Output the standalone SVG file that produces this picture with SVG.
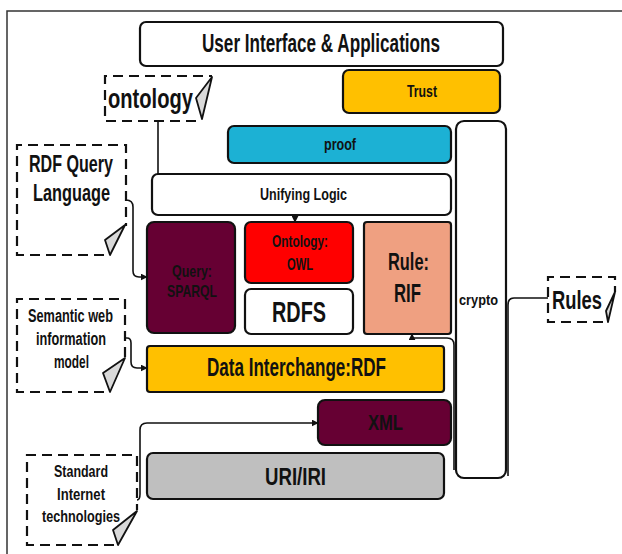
<svg xmlns="http://www.w3.org/2000/svg" width="622" height="554" viewBox="0 0 622 554">
<defs>
<style>
.box{stroke:#111;stroke-width:2.2;}
.dash{fill:none;stroke:#111;stroke-width:2.2;stroke-dasharray:10 6;}
.fold{fill:#d9d9d9;stroke:#111;stroke-width:1.8;stroke-linejoin:round;}
.conn{fill:none;stroke:#111;stroke-width:1.6;}
text{font-family:"Liberation Sans",Arial,sans-serif;font-weight:bold;fill:#111;}
</style>
<marker id="arr" viewBox="0 0 10 10" refX="9" refY="5" markerWidth="7" markerHeight="7" markerUnits="userSpaceOnUse" orient="auto">
<path d="M0,0 L10,5 L0,10 Z" fill="#111"/>
</marker>
</defs>
<rect width="622" height="554" fill="#fff"/>
<path d="M7,554 L7,11 L622,11" fill="none" stroke="#333" stroke-width="1.5"/>

<g id="ui"><rect class="box" x="140" y="22" width="363" height="44" rx="6" fill="#fff"/>
<text x="202" y="52" font-size="25" textLength="238" lengthAdjust="spacingAndGlyphs">User Interface &amp; Applications</text></g>

<g id="trust"><rect class="box" x="343" y="70" width="157" height="43" rx="6" fill="#FFC000"/>
<text x="407" y="97" font-size="16" textLength="30" lengthAdjust="spacingAndGlyphs">Trust</text></g>

<g id="crypto"><rect class="box" x="456" y="121" width="50" height="357" rx="8" fill="#fff"/>
<text x="459" y="305" font-size="15" textLength="39" lengthAdjust="spacingAndGlyphs">crypto</text></g>

<g id="proof"><rect class="box" x="228" y="126" width="223" height="37" rx="6" fill="#1CB1D4"/>
<text x="324" y="150" font-size="16" textLength="32" lengthAdjust="spacingAndGlyphs">proof</text></g>

<g id="logic"><rect class="box" x="152" y="174" width="299" height="41" rx="6" fill="#fff"/>
<text x="260" y="200" font-size="16" textLength="87" lengthAdjust="spacingAndGlyphs">Unifying Logic</text></g>

<g id="query"><rect class="box" x="147" y="222" width="88" height="111" rx="7" fill="#660033"/>
<text x="172" y="277" font-size="16" textLength="40" lengthAdjust="spacingAndGlyphs">Query:</text>
<text x="167" y="297" font-size="17" textLength="50" lengthAdjust="spacingAndGlyphs">SPARQL</text></g>

<g id="owl"><rect class="box" x="245" y="222" width="108" height="61" rx="6" fill="#FF0000"/>
<text x="272" y="247" font-size="16" textLength="56" lengthAdjust="spacingAndGlyphs">Ontology:</text>
<text x="287" y="270" font-size="17" textLength="26" lengthAdjust="spacingAndGlyphs">OWL</text></g>

<g id="rdfs"><rect class="box" x="245" y="289" width="108" height="45" rx="6" fill="#fff"/>
<text x="272" y="322" font-size="30" textLength="54" lengthAdjust="spacingAndGlyphs">RDFS</text></g>

<g id="rif"><rect class="box" x="364" y="222" width="87" height="112" rx="3" fill="#EFA081"/>
<text x="388" y="270" font-size="23" textLength="41" lengthAdjust="spacingAndGlyphs">Rule:</text>
<text x="394" y="302" font-size="25" textLength="27" lengthAdjust="spacingAndGlyphs">RIF</text></g>

<g id="rdf"><rect class="box" x="147" y="346" width="297" height="46" rx="3" fill="#FFC000"/>
<text x="207" y="376" font-size="25" textLength="179" lengthAdjust="spacingAndGlyphs">Data Interchange:RDF</text></g>

<g id="xml"><rect class="box" x="318" y="400" width="133" height="45" rx="7" fill="#660033"/>
<text x="368" y="430" font-size="22" textLength="35" lengthAdjust="spacingAndGlyphs">XML</text></g>

<g id="uri"><rect class="box" x="147" y="453" width="297" height="46" rx="6" fill="#BFBFBF"/>
<text x="265" y="485" font-size="23" textLength="61" lengthAdjust="spacingAndGlyphs">URI/IRI</text></g>

<g id="ontology-note">
<path class="dash" d="M196,121 L105,121 L105,76 L212,76"/>
<path class="fold" d="M196,98 L212,77 L202,119 Z"/>
<text x="108" y="108" font-size="28" textLength="85" lengthAdjust="spacingAndGlyphs">ontology</text></g>

<g id="rdfquery-note">
<path class="dash" d="M104,255 L17,255 L17,145 L126,145 L126,226"/>
<path class="fold" d="M105,240 L125,225 L110,255 Z"/>
<text x="29" y="172" font-size="23" textLength="84" lengthAdjust="spacingAndGlyphs">RDF Query</text>
<text x="33" y="201" font-size="23" textLength="77" lengthAdjust="spacingAndGlyphs">Language</text></g>

<g id="semantic-note">
<path class="dash" d="M104,392 L17,392 L17,299 L125,299 L125,358"/>
<path class="fold" d="M103,373 L125,358 L110,392 Z"/>
<text x="28" y="322" font-size="18" textLength="85" lengthAdjust="spacingAndGlyphs">Semantic web</text>
<text x="36" y="345" font-size="18" textLength="70" lengthAdjust="spacingAndGlyphs">information</text>
<text x="54" y="368" font-size="18" textLength="35" lengthAdjust="spacingAndGlyphs">model</text></g>

<g id="standard-note">
<path class="dash" d="M114,545 L27,545 L27,455 L137,455 L137,510"/>
<path class="fold" d="M113,530 L137,511 L118,545 Z"/>
<text x="54" y="477" font-size="17" textLength="54" lengthAdjust="spacingAndGlyphs">Standard</text>
<text x="57" y="500" font-size="17" textLength="48" lengthAdjust="spacingAndGlyphs">Internet</text>
<text x="42" y="522" font-size="17" textLength="78" lengthAdjust="spacingAndGlyphs">technologies</text></g>

<g id="rules-note">
<path class="dash" d="M603,322 L548,322 L548,277 L615,277 L615,292"/>
<path class="fold" d="M606,311 L615,292 L608,322 Z"/>
<text x="552" y="309" font-size="26" textLength="50" lengthAdjust="spacingAndGlyphs">Rules</text></g>

<g id="connectors">
<path class="conn" d="M158,122 L158,174"/>
<path class="conn" d="M295,214 L295,222" marker-end="url(#arr)"/>
<path class="conn" d="M126,200 Q133,200 133,207 L133,271 Q133,277 139,277 L147,277" marker-end="url(#arr)"/>
<path class="conn" d="M125,338 L127,338 Q131,338 131,343 L131,362 Q131,368 137,368 L147,368" marker-end="url(#arr)"/>
<path class="conn" d="M137,500 Q140,500 140,494 L140,430 Q140,423 147,423 L318,423" marker-end="url(#arr)"/>
<path class="conn" d="M548,298 L514,298 Q508,298 508,305 L508,476"/>
<path class="conn" d="M454,470 L454,345 Q454,338 447,338 L412,338 L412,334" marker-end="url(#arr)"/>
</g>
</svg>
